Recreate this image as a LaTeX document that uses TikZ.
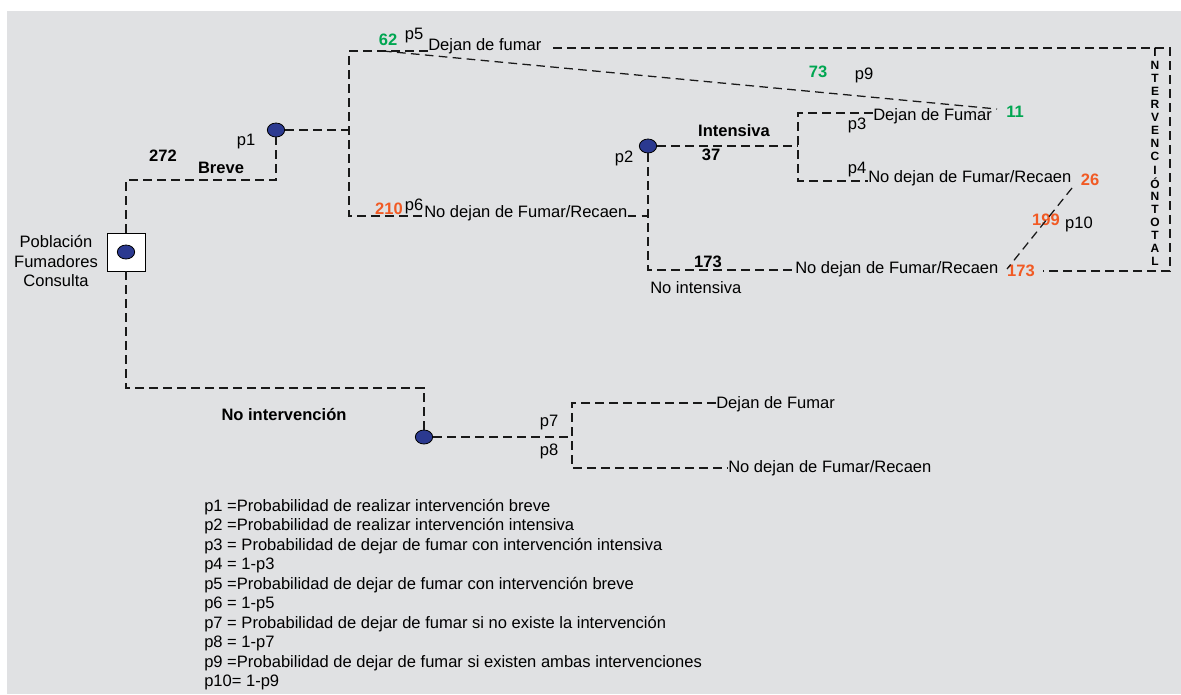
\documentclass[tikz,border=0pt]{standalone}
\usepackage{fontspec}
\setmainfont{Liberation Sans}
\usetikzlibrary{shapes.geometric}
\definecolor{fondo}{RGB}{224,225,227}
\definecolor{verde}{RGB}{0,166,81}
\definecolor{rojo}{RGB}{241,90,36}
\definecolor{azul}{RGB}{43,57,144}

\begin{document}
\begin{tikzpicture}[x=0.75pt,y=-0.75pt,font=\fontsize{12.4}{14.6}\selectfont,
dl/.style={dash pattern=on 6.5pt off 4pt,line width=0.95pt,black!90},
dot/.style={ellipse,draw=black,fill=azul,line width=0.6pt,minimum width=13pt,minimum height=10.5pt,inner sep=0pt},
txt/.style={inner sep=0pt},
lbl/.style={inner sep=0pt,anchor=west},
num/.style={inner sep=0pt,font=\fontsize{12.4}{14.6}\selectfont\bfseries},
vert/.style={inner sep=0pt,font=\fontsize{9}{10}\selectfont\bfseries}]

\useasboundingbox (0,0) rectangle (1181,694);
\fill[fondo] (7,11) rectangle (1181,694);

\node (root) at (126,252)[draw=black,fill=white,line width=0.6pt,minimum size=28.5pt,inner sep=0pt]{};
\node[dot] (r0) at (126,252){};
\node[align=center,inner sep=0pt] (pob) at (56,261){Población\\Fumadores\\Consulta};

\node[dot] (p1) at (276,130){};
\node[dot] (p2) at (648,146){};
\node[dot] (p7) at (424,437){};

%corners of the branches
\coordinate (kb) at (276,180);
\coordinate (j1) at (349,130);
\coordinate (t5) at (349,51);
\coordinate (b6) at (349,216);
\coordinate (t9) at (553,48);
\coordinate (tr) at (1170,48);
\coordinate (br) at (1170,271);
\coordinate (b9) at (1043,271);
\coordinate (d0) at (383,51);
\coordinate (d1) at (997,109);
\coordinate (k6) at (648,216);
\coordinate (k2) at (648,270);
\coordinate (j2) at (798,146);
\coordinate (t3) at (798,113);
\coordinate (b4) at (798,181);
\coordinate (e1) at (1072,188);
\coordinate (e2) at (1007,269);
\coordinate (k3) at (424,388);
\coordinate (j7) at (572,437);
\coordinate (t7) at (572,403);
\coordinate (b8) at (572,468);

\node[lbl] (dj5) at (428,46){Dejan de fumar};
\node[lbl] (nd6) at (424,213){No dejan de Fumar/Recaen};
\node[lbl] (dj3) at (873,116){Dejan de Fumar};
\node[lbl] (nd4) at (868,178){No dejan de Fumar/Recaen};
\node[lbl] (ndni) at (795,269){No dejan de Fumar/Recaen};
\node[lbl] (dj7) at (716,404){Dejan de Fumar};
\node[lbl] (nd8) at (728,468){No dejan de Fumar/Recaen};
\node[lbl] (noint) at (650,288){No intensiva};

\node[num] (n272) at (163,156){272};
\node[num] (breve) at (221,168){Breve};
\node[num] (int) at (734,131){Intensiva};
\node[num] (n37) at (711,155){37};
\node[num] (n173) at (708,262){173};
\node[num] (nointv) at (284,415){No intervención};

\node[num,verde] (n62) at (388,40){62};
\node[num,verde] (n73) at (818,72){73};
\node[num,verde] (n11) at (1015,112){11};
\node[num,rojo] (n210) at (389,209){210};
\node[num,rojo] (n26) at (1090,180){26};
\node[num,rojo] (n199) at (1046,220){199};
\node[num,rojo] (r173) at (1021,271){173};

\node[txt] (lp1) at (246,142){p1};
\node[txt] (lp2) at (624,158){p2};
\node[txt] (lp3) at (857,125){p3};
\node[txt] (lp4) at (857,170){p4};
\node[txt] (lp5) at (414,36){p5};
\node[txt] (lp6) at (414,206){p6};
\node[txt] (lp7) at (549,423){p7};
\node[txt] (lp8) at (549,451){p8};
\node[txt] (lp9) at (864,75){p9};
\node[txt] (lp10) at (1079,224){p10};

%breve
\draw[dl] (root.north) |- (kb) -- (p1.south);
\draw[dl] (p1.east) -- (j1);
\draw[dl] (dj5.west |- t5) -- (t5) -- (b6) -- (nd6.west |- b6);
\draw[dl] (t9) -- (tr) -- (br) -- (b9);
\draw[dl] (d0) -- (d1);
\draw[dl] (nd6.east |- k6) -- (k6);

%intensiva / no intensiva
\draw[dl] (p2.south) -- (k2) -- (ndni.west |- k2);
\draw[dl] (p2.east) -- (j2);
\draw[dl] (dj3.west |- t3) -- (t3) -- (b4) -- (nd4.west |- b4);
\draw[dl] (e1) -- (e2);

%no intervencion
\draw[dl] (root.south) |- (k3) -- (p7.north);
\draw[dl] (p7.east) -- (j7);
\draw[dl] (dj7.west |- t7) -- (t7) -- (b8) -- (nd8.west |- b8);

\foreach \l [count=\i] in {I,N,T,E,R,V,E,N,C,I,Ó,N,T,O,T,A,L}
{
\node[vert] (v\i) at (1155,{52+(\i-1)*13.1}){\l};
}

\foreach \t [count=\i] in {p1 =Probabilidad de realizar intervención breve,
p2 =Probabilidad de realizar intervención intensiva,
p3 = Probabilidad de dejar de fumar con intervención intensiva,
p4 = 1-p3,
p5 =Probabilidad de dejar de fumar con intervención breve,
p6 = 1-p5,
p7 = Probabilidad de dejar de fumar si no existe la intervención,
p8 = 1-p7,
p9 =Probabilidad de dejar de fumar si existen ambas intervenciones,
p10= 1-p9}
{
\node[lbl] (leg\i) at (204,{507+(\i-1)*19.5}){\t};
}

\end{tikzpicture}
\end{document}
